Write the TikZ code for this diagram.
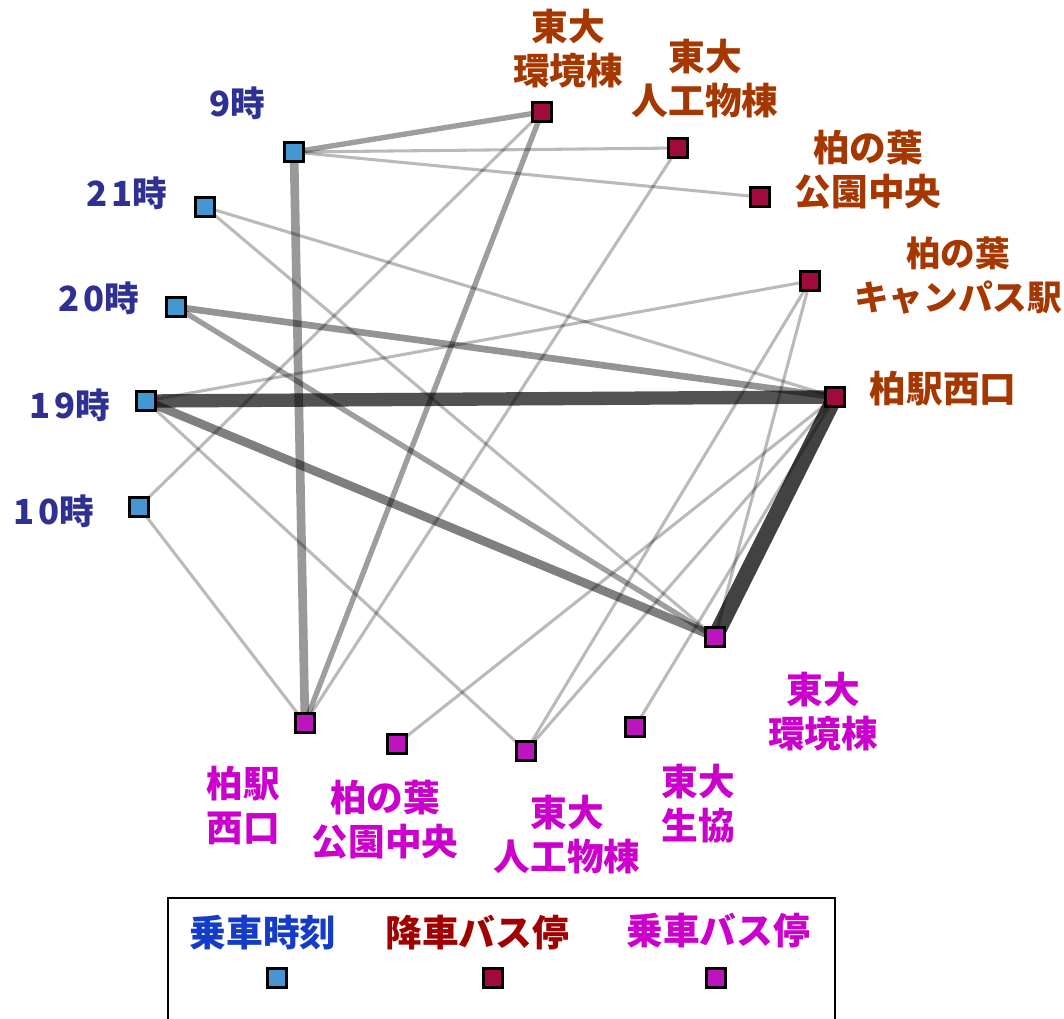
\documentclass[tikz,border=0pt]{standalone}
\usepackage{fontspec}
\newfontfamily\jp{Noto Sans CJK JP}
\usetikzlibrary{backgrounds}
\definecolor{tfill}{RGB}{70,150,210}
\definecolor{dfill}{RGB}{160,10,60}
\definecolor{bfill}{RGB}{190,20,190}
\definecolor{tlabcol}{RGB}{46,49,146}
\definecolor{dlabcol}{RGB}{165,55,0}
\definecolor{blabcol}{RGB}{204,0,204}
\definecolor{legblue}{RGB}{20,60,200}
\definecolor{legred}{RGB}{160,0,0}
\tikzset{
  sq/.style={draw=black, line width=1.9pt, minimum size=14.5pt, inner sep=0pt},
  tsq/.style={sq, fill=tfill},
  dsq/.style={sq, fill=dfill},
  bsq/.style={sq, fill=bfill},
  lab/.style={font=\jp\bfseries\fontsize{27.5}{33}\selectfont, align=center, inner sep=0pt},
  tlab/.style={lab, text=tlabcol, font=\jp\bfseries\fontsize{26}{33}\selectfont},
  dlab/.style={lab, text=dlabcol},
  blab/.style={lab, text=blabcol},
  ethin/.style={draw=black, draw opacity=0.27, line width=2.3pt},
  emid/.style={draw=black, draw opacity=0.38, line width=4pt},
  emed/.style={draw=black, draw opacity=0.42, line width=5pt},
  ethick/.style={draw=black, draw opacity=0.5, line width=6.5pt},
  eheavy/.style={draw=black, draw opacity=0.68, line width=10pt},
  legbox/.style={draw=black, line width=1.5pt},
}
\begin{document}
\begin{tikzpicture}[x=0.75pt,y=-0.75pt]
\useasboundingbox (0,0) rectangle (1064,1018);

% time nodes
\node[tsq] (t9) at (294,152) {};
\node[tsq] (t21) at (205,207) {};
\node[tsq] (t20) at (176,307) {};
\node[tsq] (t19) at (146,401) {};
\node[tsq] (t10) at (139,507) {};
% drop-off stops
\node[dsq] (dkan) at (542,112) {};
\node[dsq] (djin) at (678,148) {};
\node[dsq] (dkou) at (760,197) {};
\node[dsq] (dcam) at (810,281) {};
\node[dsq] (dkas) at (835,397) {};
% boarding stops
\node[bsq] (bkan) at (715,637) {};
\node[bsq] (bkas) at (305,723) {};
\node[bsq] (bkou) at (397,744) {};
\node[bsq] (bjin) at (526,751) {};
\node[bsq] (bsei) at (635,727) {};

\begin{scope}[on background layer]
  \draw[eheavy] (t19.center) -- (dkas.center);
  \draw[eheavy, line width=12pt, draw opacity=0.74] (dkas.center) -- (bkan.center);
  \draw[ethick] (t19.center) -- (bkan.center);
  \draw[ethick, draw opacity=0.4] (t9.center) -- (bkas.center);
  \draw[emed] (t20.center) -- (dkas.center);
  \draw[emid] (t20.center) -- (bkan.center);
  \draw[emid] (t9.center) -- (dkan.center);
  \draw[emid] (dkan.center) -- (bkas.center);
  \draw[ethin] (t9.center) -- (djin.center);
  \draw[ethin] (t9.center) -- (dkou.center);
  \draw[ethin] (t21.center) -- (dkas.center);
  \draw[ethin] (t21.center) -- (bkan.center);
  \draw[ethin] (t10.center) -- (dkan.center);
  \draw[ethin] (t10.center) -- (bkas.center);
  \draw[ethin] (t19.center) -- (dcam.center);
  \draw[ethin] (t19.center) -- (bjin.center);
  \draw[ethin] (djin.center) -- (bkas.center);
  \draw[ethin] (dcam.center) -- (bjin.center);
  \draw[ethin] (dcam.center) -- (bkan.center);
  \draw[ethin] (dkas.center) -- (bkou.center);
  \draw[ethin] (dkas.center) -- (bjin.center);
  \draw[ethin] (dkas.center) -- (bsei.center);
\end{scope}

% labels
\node[tlab] (l9) at (237,103) {9時};
\node[tlab] (l21) at (127,193) {2\kern3pt1時};
\node[tlab] (l20) at (99,298) {2\kern3pt0時};
\node[tlab] (l19) at (70,405) {1\kern3pt9時};
\node[tlab] (l10) at (54,511) {1\kern3pt0時};

\node[dlab] (ldkan) at (568,49) {東大\\環境棟};
\node[dlab] (ldjin) at (705,79) {東大\\人工物棟};
\node[dlab] (ldkou) at (868,170) {柏の葉\\公園中央};
\node[dlab, font=\jp\bfseries\fontsize{26}{33}\selectfont] (ldcam) at (958,276) {柏の葉\\キャンパス駅};
\node[dlab] (ldkas) at (943,389) {柏駅西口};

\node[blab] (lbkan) at (823,712) {東大\\環境棟};
\node[blab] (lbkas) at (243,805) {柏駅\\西口};
\node[blab] (lbkou) at (385,820) {柏の葉\\公園中央};
\node[blab] (lbjin) at (567,835) {東大\\人工物棟};
\node[blab] (lbsei) at (698,804) {東大\\生協};

% legend
\coordinate (lbl) at (168,1030);
\coordinate (ltl) at (168,898);
\coordinate (ltr) at (835,898);
\coordinate (lbr) at (835,1030);
\draw[legbox] (lbl) -- (ltl) -- (ltr) -- (lbr);
\node[lab, text=legblue] (leg1) at (263,933) {乗車時刻};
\node[lab, text=legred] (leg2) at (477,933) {降車バス停};
\node[lab, text=blabcol] (leg3) at (718,931) {乗車バス停};
\node[tsq] (legs1) at (277,978) {};
\node[dsq] (legs2) at (493,978) {};
\node[bsq] (legs3) at (716,978) {};
\end{tikzpicture}
\end{document}
